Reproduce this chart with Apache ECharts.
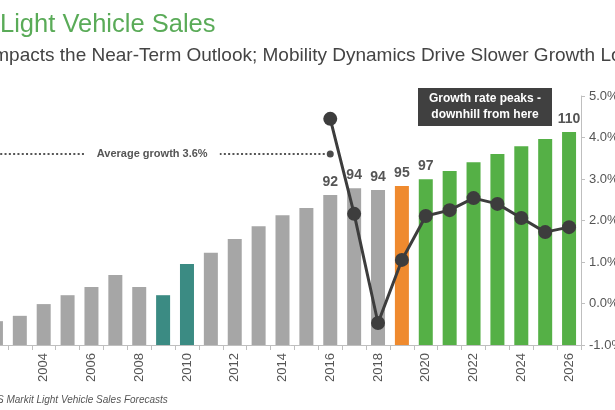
<!DOCTYPE html>
<html>
<head>
<meta charset="utf-8">
<script src="https://cdn.jsdelivr.net/npm/echarts@6/dist/echarts.min.js"></script>
<style>
html,body{margin:0;padding:0;background:#fff;}
#chart{width:615px;height:410px;}
</style>
</head>
<body>
<div id="chart"></div>
<script>
var years = ['2002','2003','2004','2005','2006','2007','2008','2009','2010','2011','2012','2013','2014','2015','2016','2017','2018','2019','2020','2021','2022','2023','2024','2025','2026'];
var sales = [56.7, 58.2, 61.5, 64.0, 66.3, 69.7, 66.3, 64.0, 72.8, 75.9, 79.8, 83.4, 86.5, 88.5, 92.2, 94.1, 93.6, 94.7, 96.6, 98.9, 101.4, 103.7, 105.9, 107.9, 109.9];
var salesLabels = {'2016':'92','2017':'94','2018':'94','2019':'95','2020':'97','2026':'110'};
var growth = [null,null,null,null,null,null,null,null,null,null,null,null,null,null,4.45,2.16,-0.47,1.05,2.11,2.25,2.54,2.40,2.06,1.72,1.84];
var avgGrowth = 3.6;
var avgEndYear = '2016';
var avgLabelYear = '2008';
var barColors = {grey:'#a6a6a6', teal:'#3b8b83', orange:'#ef8a2e', green:'#55b046'};
function colorFor(y){
  var n = +y;
  if (n === 2009 || n === 2010) return barColors.teal;
  if (n === 2019) return barColors.orange;
  if (n >= 2020) return barColors.green;
  return barColors.grey;
}

var barData = years.map(function(y,i){
  var item = {value: sales[i], itemStyle:{color: colorFor(y)}};
  if (salesLabels[y]) {
    item.label = {show:true, position:'top', distance:6, formatter: salesLabels[y],
      fontFamily:'Liberation Sans, Arial', fontWeight:'bold', fontSize:14, color:'#555'};
  }
  return item;
});
var endIdx = years.indexOf(avgEndYear);
var avgData = years.map(function(y,i){
  if (i > endIdx) return '-';
  var item = {value: avgGrowth, symbolSize: 0.01};
  if (i === endIdx) { item.symbolSize = 7; }
  if (y === avgLabelYear) {
    item.label = {show:true, position:'inside', offset:[13,0], formatter:'Average growth ' + avgGrowth.toFixed(1) + '%',
      fontFamily:'Liberation Sans, Arial', fontWeight:'bold', fontSize:11, color:'#555',
      backgroundColor:'#fff', padding:[3,12]};
  }
  return item;
});
var growthData = growth.map(function(v){ return v === null ? '-' : v; });

var chart = echarts.init(document.getElementById('chart'), null, {renderer:'canvas'});
chart.setOption({
  animation:false,
  backgroundColor:'#fff',
  textStyle:{fontFamily:'Liberation Sans, Arial'},
  grid:{left:-16, right:34, top:96, bottom:65, containLabel:false, outerBoundsMode:'none'},
  xAxis:{
    type:'category', data:years, boundaryGap:true,
    axisLine:{show:true, onZero:false, lineStyle:{color:'#bfbfbf', width:1}},
    axisTick:{show:true, interval:0, length:5, lineStyle:{color:'#bfbfbf'}},
    axisLabel:{interval:1, rotate:90, fontSize:13, color:'#555', margin:8, fontFamily:'Liberation Sans, Arial'}
  },
  yAxis:[
    {type:'value', min:50, max:120, show:false, position:'left', splitLine:{show:false}},
    {type:'value', min:-1, max:5, interval:1, position:'right',
     axisLine:{show:true, lineStyle:{color:'#bfbfbf'}},
     axisTick:{show:true, length:4, lineStyle:{color:'#bfbfbf'}},
     splitLine:{show:false},
     axisLabel:{formatter:function(v){return v.toFixed(1)+'%';}, fontSize:13, color:'#555', margin:8, fontFamily:'Liberation Sans, Arial'}}
  ],
  series:[
    {type:'bar', yAxisIndex:0, data:barData, barWidth:14, z:2},
    {type:'line', yAxisIndex:1, data:avgData, symbol:'circle', showSymbol:true,
     lineStyle:{color:'#555', width:2, type:[2,2.3]}, itemStyle:{color:'#4a4a4a'}, z:3},
    {type:'line', yAxisIndex:1, data:growthData, symbol:'circle', symbolSize:14,
     lineStyle:{color:'#3d3d3d', width:3}, itemStyle:{color:'#3d3d3d'}, z:4}
  ],
  graphic:[
    {type:'text', left:0, top:12, style:{text:'Light Vehicle Sales', fill:'#5aab58', font:'25.5px "Liberation Sans", Arial'}},
    {type:'text', left:-12, top:46, style:{text:'Impacts the Near-Term Outlook; Mobility Dynamics Drive Slower Growth Long-Term', fill:'#444', font:'19px "Liberation Sans", Arial'}},
    {type:'text', left:-13, top:395, style:{text:'IHS Markit Light Vehicle Sales Forecasts', fill:'#555', font:'italic 10px "Liberation Sans", Arial'}},
    {type:'group', left:418, top:88, z:1, children:[
      {type:'rect', shape:{x:0,y:0,width:134,height:38}, style:{fill:'#404040'}},
      {type:'text', x:67, y:19, style:{text:'Growth rate peaks -\ndownhill from here', fill:'#fff', font:'bold 12px "Liberation Sans", Arial', textAlign:'center', textVerticalAlign:'middle', lineHeight:16}}
    ]}
  ]
});
</script>
</body>
</html>
